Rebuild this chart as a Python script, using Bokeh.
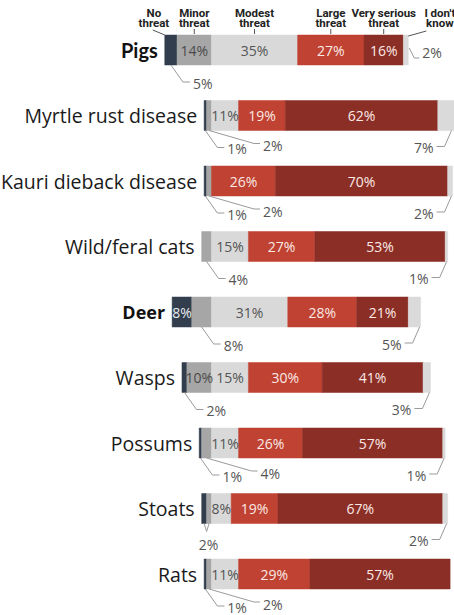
from bokeh.plotting import figure
from bokeh.models import Range1d, ColumnDataSource
from bokeh.core.properties import value
from bokeh.embed import file_html
from bokeh.resources import INLINE

# ---------------- data ----------------
categories = ["Pigs", "Myrtle rust disease", "Kauri dieback disease", "Wild/feral cats",
              "Deer", "Wasps", "Possums", "Stoats", "Rats"]
bold_categories = ["Pigs", "Deer"]

header_line1 = ["No", "Minor", "Modest", "Large", "Very serious", "I don't"]
header_line2 = ["threat", "threat", "threat", "threat", "threat", "know"]

no_threat     = [5, 1, 1, 0, 8, 2, 1, 2, 1]
minor_threat  = [14, 2, 2, 4, 8, 10, 4, 2, 2]
modest_threat = [35, 11, 0, 15, 31, 15, 11, 8, 11]
large_threat  = [27, 19, 26, 27, 28, 30, 26, 19, 29]
very_serious  = [16, 62, 70, 53, 21, 41, 57, 67, 57]
dont_know     = [2, 7, 2, 1, 5, 3, 1, 2, 0]

# which segments are labelled outside the bar (0=no threat ... 5=don't know)
callouts = [
    {0: "L1", 5: "P"},
    {0: "L1", 1: "L2", 5: "R"},
    {0: "L1", 1: "L2", 5: "R"},
    {1: "L1", 5: "R"},
    {1: "L1", 5: "R"},
    {0: "L1", 5: "R"},
    {0: "L1", 1: "L2", 5: "R"},
    {0: "V", 1: "V", 5: "R"},
    {0: "L1", 1: "L2"},
]

# ---------------- style ----------------
series = [no_threat, minor_threat, modest_threat, large_threat, very_serious, dont_know]
colors = ["#323e4d", "#a6a6a6", "#d9d9d9", "#bf4232", "#8b2e26", "#dadada"]
inner_text_colors = ["#e8ebef", "#4a4a4a", "#555555", "#fbe9e5", "#fbe9e5", "#555555"]
FONT = "Open Sans"
CALLOUT_COLOR = "#555555"
LEADER_COLOR = "#9a9a9a"

K = 2.46      # px per percent
ROW = 65.5    # px per row
X0 = 211      # x of the modest-threat start
Y0 = 49.5     # y of the first row centre
W, H = 454, 615
BAR_PX = 30


def dx(px):
    return px / K


def dy(px):
    return px / ROW


p = figure(width=W, height=H, output_backend="svg", toolbar_location=None,
           x_range=Range1d((0 - X0) / K, (W - X0) / K),
           y_range=Range1d((H - Y0) / ROW, (0 - Y0) / ROW),
           x_axis_type=None, y_axis_type=None, min_border=0)
p.outline_line_color = None
p.background_fill_color = "white"
p.border_fill_color = "white"

n = len(categories)
starts = []
ends = []
for i in range(n):
    x = -(no_threat[i] + minor_threat[i])
    rs, re = [], []
    for s in range(len(series)):
        v = series[s][i]
        rs.append(x)
        re.append(x + v)
        x += v
    starts.append(rs)
    ends.append(re)

# bars
bar = dict(y=[], left=[], right=[], color=[])
for i in range(n):
    for s in range(len(series)):
        if series[s][i] > 0:
            bar["y"].append(i)
            bar["left"].append(starts[i][s])
            bar["right"].append(ends[i][s])
            bar["color"].append(colors[s])
p.hbar(y="y", left="left", right="right", height=dy(BAR_PX), fill_color="color",
       line_color="color", line_width=0.5, source=ColumnDataSource(bar))

# inner labels
inn = dict(x=[], y=[], t=[], c=[])
for i in range(n):
    for s in range(len(series)):
        v = series[s][i]
        if v > 0 and s not in callouts[i]:
            inn["x"].append((starts[i][s] + ends[i][s]) / 2)
            inn["y"].append(i)
            inn["t"].append(f"{v}%")
            inn["c"].append(inner_text_colors[s])
p.text(x="x", y="y", text="t", text_color="c", text_align="center", text_baseline="middle",
       text_font=value(FONT), text_font_size="14px", source=ColumnDataSource(inn))

# category labels
reg = dict(x=[], y=[], t=[])
for i in range(n):
    if categories[i] not in bold_categories:
        reg["x"].append(starts[i][0])
        reg["y"].append(i)
        reg["t"].append(categories[i])
p.text(x="x", y="y", text="t", x_offset=-7, text_align="right", text_baseline="middle",
       text_font=value(FONT), text_font_size="19.5px", text_color="#1a1a1a",
       source=ColumnDataSource(reg))
for i in range(n):
    if categories[i] in bold_categories:
        size = "20px" if i == 0 else "18px"
        fnt = "Lato" if i == 0 else FONT
        p.text(x=[starts[i][0]], y=[i], text=[categories[i]], x_offset=-7, text_align="right",
               text_baseline="middle", text_font=value(fnt), text_font_size=size,
               text_font_style="bold", text_color="#111111")

# callouts
xmax = (W - X0) / K - dx(2)
lx, ly = [], []
tl = dict(x=[], y=[], t=[])
tr = dict(x=[], y=[], t=[])
tc = dict(x=[], y=[], t=[])
for i in range(n):
    b = i + dy(BAR_PX / 2)
    for s, style in callouts[i].items():
        v = series[s][i]
        cx = (starts[i][s] + ends[i][s]) / 2
        r = min(ends[i][s], xmax)
        if style == "L1":
            lx.append([cx, cx + dx(12), cx + dx(19)])
            ly.append([b, b + dy(17), b + dy(17)])
            tl["x"].append(cx + dx(22)); tl["y"].append(b + dy(18)); tl["t"].append(f"{v}%")
        elif style == "L2":
            lx.append([cx, cx + dx(45), cx + dx(51)])
            ly.append([b, b + dy(13), b + dy(13)])
            tl["x"].append(cx + dx(54)); tl["y"].append(b + dy(15)); tl["t"].append(f"{v}%")
        elif style == "R":
            lx.append([r - dx(1), r - dx(8), r - dx(16)])
            ly.append([b, b + dy(16), b + dy(16)])
            tr["x"].append(r - dx(19)); tr["y"].append(b + dy(17)); tr["t"].append(f"{v}%")
        elif style == "P":
            lx.append([r + dx(1), r + dx(6), r + dx(11)])
            ly.append([i - dy(2), i + dy(8), i + dy(8)])
            tl["x"].append(r + dx(14)); tl["y"].append(i + dy(2.5)); tl["t"].append(f"{v}%")
        elif style == "V":
            c0 = (starts[i][0] + ends[i][0]) / 2
            c1 = (starts[i][1] + ends[i][1]) / 2
            ax = (c0 + c1) / 2
            lx.append([cx, ax]); ly.append([b, b + dy(8)])
            if s == 0:
                tc["x"].append(ax + dx(2)); tc["y"].append(b + dy(21)); tc["t"].append(f"{v}%")
p.multi_line(xs=lx, ys=ly, line_color=LEADER_COLOR, line_width=1)
for src, align in ((tl, "left"), (tr, "right"), (tc, "center")):
    p.text(x="x", y="y", text="t", text_align=align, text_baseline="middle",
           text_font=value(FONT), text_font_size="14px", text_color=CALLOUT_COLOR,
           source=ColumnDataSource(src))

# header (over the first row)
top = 0 - dy(BAR_PX / 2)
hx = []
for s in range(len(series)):
    c = (starts[0][s] + ends[0][s]) / 2
    if s == 0:
        c -= dx(17)
    if s == 5:
        c += dx(34)
    hx.append(c)
p.text(x=hx, y=[top - dy(22.5)] * 6, text=header_line1, text_align="center", text_baseline="middle",
       text_font=value("Roboto"), text_font_size="11.5px", text_font_style="bold", text_color="#222222")
p.text(x=hx, y=[top - dy(12)] * 6, text=header_line2, text_align="center", text_baseline="middle",
       text_font=value("Roboto"), text_font_size="11.5px", text_font_style="bold", text_color="#222222")
tx, ty = [], []
for s in range(1, 5):
    c = (starts[0][s] + ends[0][s]) / 2
    tx.append([c, c]); ty.append([top - dy(6), top - dy(1)])
tx.append([starts[0][0] - dx(12), starts[0][0]]); ty.append([top - dy(5), top])
tx.append([ends[0][5] + dx(18), ends[0][5]]); ty.append([top - dy(4), top + dy(1)])
p.multi_line(xs=tx, ys=ty, line_color="#555555", line_width=1)

open("out.html", "w").write(file_html(p, INLINE))
